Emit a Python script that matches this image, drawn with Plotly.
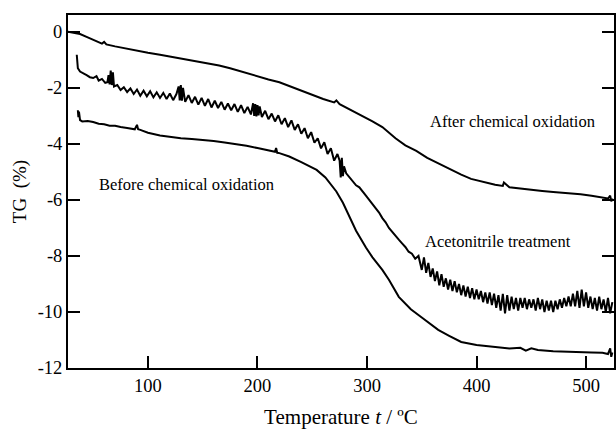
import plotly.graph_objects as go

# ---- data ----
after_T = [27, 30, 33, 35, 38, 45, 52, 58, 60, 62, 70, 80, 90, 100, 111, 120, 130, 140, 150, 156,
           165, 175, 185, 193, 202, 210, 220, 230, 238, 250, 260, 270, 272, 275, 285, 295, 305,
           314, 320, 326, 335, 345, 355, 365, 375, 386, 395, 405, 417, 424, 425, 430, 440, 447,
           460, 470, 484, 495, 505, 515, 520, 522, 523, 524]
after_TG = [0.0, -0.02, -0.04, -0.06, -0.08, -0.2, -0.32, -0.42, -0.36, -0.45, -0.52, -0.6, -0.68,
            -0.75, -0.82, -0.88, -0.95, -1.04, -1.1, -1.14, -1.2, -1.3, -1.42, -1.52, -1.6, -1.7,
            -1.8, -1.95, -2.05, -2.25, -2.4, -2.52, -2.45, -2.58, -2.78, -3.0, -3.2, -3.4, -3.6,
            -3.8, -4.05, -4.25, -4.5, -4.7, -4.88, -5.1, -5.25, -5.35, -5.46, -5.5, -5.38, -5.55,
            -5.6, -5.64, -5.68, -5.72, -5.75, -5.8, -5.85, -5.9, -5.95, -5.85, -6.05, -5.95]

aceto_T = [35, 35.5, 36, 38, 41, 44, 47, 50, 53, 55, 58, 61, 63, 64, 65, 66, 67, 68, 69, 72, 75,
           78, 81, 84, 87, 90, 93, 96, 99, 102, 105, 108, 111, 114, 117, 120, 123, 126, 128, 129,
           130, 131, 132, 134, 137, 140, 143, 146, 149, 152, 155, 158, 161, 164, 167, 170, 173,
           176, 179, 182, 185, 188, 191, 194, 196, 197, 198, 199, 200, 201, 202, 204, 207, 210,
           213, 216, 219, 222, 225, 228, 231, 234, 237, 240, 243, 246, 249, 252, 255, 258, 261,
           264, 267, 270, 273, 275, 276, 277, 278, 279, 281, 284, 287, 290, 293, 296, 299, 302,
           305, 308, 311, 314, 317, 320, 323, 326, 329, 332, 335, 338, 341, 344, 347, 350, 352,
           354, 356, 358, 360, 362, 364, 366, 368, 370, 372, 374, 376, 378, 380, 382, 384, 386,
           388, 390, 392, 394, 396, 398, 400, 402, 404, 406, 408, 410, 412, 414, 416, 418, 420,
           422, 424, 426, 428, 430, 432, 434, 436, 438, 440, 442, 444, 446, 448, 450, 452, 454,
           456, 458, 460, 462, 464, 466, 468, 470, 472, 474, 476, 478, 480, 482, 484, 486, 488,
           490, 492, 494, 496, 498, 500, 502, 504, 506, 508, 510, 512, 514, 516, 518, 520, 522, 524]
aceto_TG = [-0.82, -1.1, -1.3, -1.42, -1.5, -1.55, -1.62, -1.65, -1.58, -1.74, -1.68, -1.82, -1.8,
            -1.55, -1.88, -1.38, -1.9, -1.45, -1.95, -1.9, -2.08, -1.98, -2.15, -2.02, -2.22, -2.06,
            -2.28, -2.1, -2.3, -2.12, -2.34, -2.16, -2.36, -2.18, -2.4, -2.2, -2.44, -2.22, -1.95,
            -2.45, -1.9, -2.46, -2.0, -2.5, -2.26, -2.54, -2.32, -2.6, -2.36, -2.64, -2.4, -2.7,
            -2.46, -2.72, -2.5, -2.78, -2.56, -2.8, -2.58, -2.86, -2.62, -2.9, -2.68, -2.95, -2.55,
            -3.0, -2.58, -3.02, -2.62, -2.98, -2.66, -3.04, -2.82, -3.12, -2.92, -3.2, -2.98, -3.3,
            -3.08, -3.4, -3.16, -3.5, -3.3, -3.64, -3.44, -3.8, -3.58, -3.96, -3.8, -4.16, -3.94,
            -4.36, -4.16, -4.6, -4.36, -4.6, -5.2, -4.5, -5.15, -4.8, -5.05, -5.2, -5.35, -5.48, -5.55,
            -5.72, -5.85, -6.0, -6.15, -6.3, -6.45, -6.65, -6.8, -7.0, -7.15, -7.3, -7.42, -7.55,
            -7.68, -7.85, -7.92, -8.1, -8.0, -8.5, -8.05, -8.6, -8.25, -8.75, -8.45, -8.9, -8.55,
            -9.05, -8.65, -9.1, -8.8, -9.2, -8.85, -9.25, -8.9, -9.3, -9.0, -9.4, -9.05, -9.45,
            -9.1, -9.5, -9.15, -9.55, -9.2, -9.55, -9.25, -9.65, -9.3, -9.7, -9.3, -9.75, -9.35,
            -9.85, -9.4, -9.95, -9.35, -10.05, -9.4, -9.95, -9.45, -9.9, -9.5, -9.95, -9.5, -9.85,
            -9.5, -9.9, -9.55, -9.85, -9.55, -9.95, -9.5, -9.9, -9.55, -10.0, -9.6, -9.95, -9.6,
            -10.0, -9.6, -9.9, -9.55, -9.85, -9.5, -9.8, -9.45, -9.8, -9.35, -9.8, -9.25, -9.85,
            -9.2, -9.8, -9.3, -9.85, -9.45, -9.9, -9.5, -9.95, -9.45, -9.9, -9.55, -10.0, -9.5,
            -10.05, -9.65]

before_T = [36, 36.5, 37, 38, 40, 45, 50, 55, 60, 65, 70, 75, 81, 85, 88, 90, 91, 93, 100, 111,
            120, 130, 140, 150, 160, 170, 180, 190, 200, 210, 216, 217, 218, 220, 229, 240, 254,
            262, 272, 278, 284, 290, 299, 305, 314, 320, 329, 340, 350, 358, 365, 375, 386, 400,
            417, 430, 440, 445, 450, 456, 470, 480, 493, 505, 515, 520, 522, 523, 524]
before_TG = [-2.8, -3.05, -2.85, -3.15, -3.2, -3.18, -3.22, -3.28, -3.3, -3.35, -3.35, -3.4,
             -3.43, -3.45, -3.48, -3.32, -3.48, -3.5, -3.6, -3.7, -3.75, -3.8, -3.83, -3.86, -3.9,
             -3.95, -4.0, -4.07, -4.15, -4.22, -4.28, -4.15, -4.32, -4.33, -4.45, -4.65, -4.93,
             -5.2, -5.7, -6.1, -6.6, -7.1, -7.7, -8.05, -8.5, -8.85, -9.46, -9.9, -10.2, -10.45,
             -10.64, -10.85, -11.07, -11.18, -11.25, -11.3, -11.28, -11.38, -11.3, -11.36, -11.4,
             -11.42, -11.43, -11.45, -11.46, -11.5, -11.3, -11.6, -11.45]

label_text = ["After chemical oxidation", "Acetonitrile treatment", "Before chemical oxidation"]
label_T = [355.5, 351, 53.5]
label_TG = [-3.2, -7.5, -5.46]

x_ticks = [100, 200, 300, 400, 500]
y_ticks = [0, -2, -4, -6, -8, -10, -12]
y_ticktext = ["0", "-2", "-4", "-6", "-8", "-10", "-12"]

FONT = "Liberation Serif"

fig = go.Figure()
for xs, ys in [(after_T, after_TG), (aceto_T, aceto_TG), (before_T, before_TG)]:
    fig.add_trace(go.Scatter(x=xs, y=ys, mode="lines",
                             line=dict(color="black", width=2), showlegend=False))

for t, xv, yv in zip(label_text, label_T, label_TG):
    fig.add_annotation(x=xv, y=yv, text=t, showarrow=False, xanchor="left", yanchor="middle",
                       font=dict(family=FONT, size=16.5, color="black"))

fig.update_layout(
    width=616, height=431,
    margin=dict(l=68, r=0, t=15, b=63),
    paper_bgcolor="white", plot_bgcolor="white",
    font=dict(family=FONT, size=18, color="black"),
    xaxis=dict(range=[27, 525.5], tickvals=x_ticks, ticks="inside", ticklen=12, tickwidth=1.5,
               tickcolor="black", showline=True, linecolor="black", linewidth=2, mirror=True,
               showgrid=False, zeroline=False, tickfont=dict(family=FONT, size=18.5),
               title=dict(text="Temperature <i>t</i> / ºC", font=dict(family=FONT, size=21),
                          standoff=14)),
    yaxis=dict(range=[-12, 0.6], tickvals=y_ticks, ticktext=y_ticktext, ticks="inside",
               ticklen=12, tickwidth=1.5, tickcolor="black", showline=True, linecolor="black",
               linewidth=2, mirror="ticks", showgrid=False, zeroline=False,
               tickfont=dict(family=FONT, size=18.5),
               title=dict(text="TG  (%)", font=dict(family=FONT, size=19), standoff=6)),
)

fig.write_html("out.html")
